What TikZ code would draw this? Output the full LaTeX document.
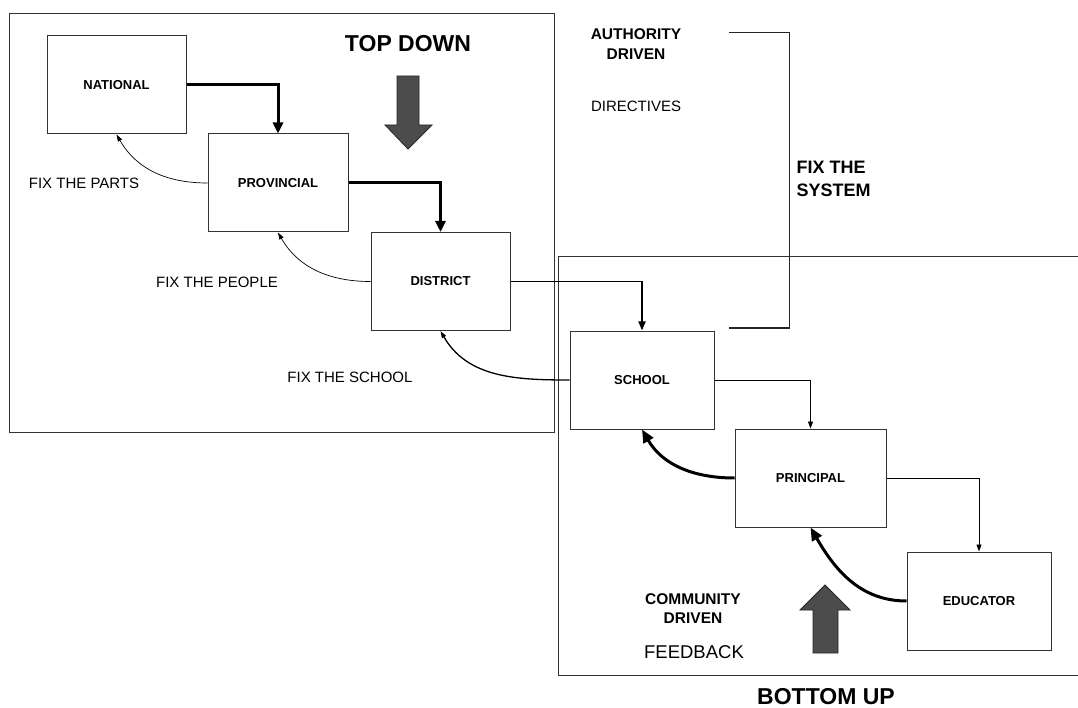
\documentclass[tikz,border=0pt]{standalone}
\usepackage{fontspec}
\setmainfont{Liberation Sans}
\usetikzlibrary{arrows.meta}
\begin{document}
\begin{tikzpicture}[x=1pt, y=-1pt,
  tierbox/.style={draw=black!80, line width=1pt, inner sep=0pt, minimum width=#1, minimum height=98pt, font=\fontsize{13}{15}\selectfont\bfseries},
  note/.style={font=\fontsize{15}{18}\selectfont, align=center},
  boldnote/.style={font=\fontsize{15.5}{19}\selectfont\bfseries, align=center},
  bignote/.style={font=\fontsize{23}{26}\selectfont\bfseries},
  pushthick/.style={line width=3pt, -{Triangle[length=11pt,width=10pt]}},
  pushmid/.style={line width=1.8pt, -{Triangle[length=9pt,width=7pt]}},
  pushthin/.style={line width=0.9pt, -{Triangle[length=7pt,width=5pt]}},
  backthin/.style={line width=0.7pt, -{Triangle[length=7pt,width=4.5pt]}},
  backthick/.style={line width=3pt, -{Triangle[length=13pt,width=11pt]}},
  bigarrow/.style={fill=black!70, draw=black!85, line width=0.8pt}]
\useasboundingbox (0,0) rectangle (1078,708);

% Top down frame
\draw[black!80, line width=1pt] (9,14) rectangle (554,432);
\node[bignote] (topdown) at (408,44) {TOP DOWN};
\draw[bigarrow] (397,76) -- (419,76) -- (419,125) -- (432,125) -- (408,149) -- (385,125) -- (397,125) -- cycle;

% Bottom up frame (runs off the right edge)
\draw[black!80, line width=1pt] (1078,257) -- (558,257) -- (558,675) -- (1078,675);
\node[bignote] (bottomup) at (826,697) {BOTTOM UP};
\draw[bigarrow] (813,653) -- (838,653) -- (838,610) -- (850,610) -- (825,585) -- (800,610) -- (813,610) -- cycle;

% Levels
\node[tierbox=139pt] (national) at (116.5,85) {NATIONAL};
\node[tierbox=140pt] (provincial) at (278,183) {PROVINCIAL};
\node[tierbox=139pt] (district) at (440.5,281.5) {DISTRICT};
\node[tierbox=144pt] (school) at (642,380) {SCHOOL};
\node[tierbox=151pt] (principal) at (810.5,478) {PRINCIPAL};
\node[tierbox=144pt] (educator) at (979,601) {EDUCATOR};

% Downward flow
\draw[pushthick] (national.east) -| (provincial.north);
\draw[pushthick] (provincial.east) -| (district.north);
\draw[pushmid] (district.east) -| (school.north);
\draw[pushthin] (school.east) -| (principal.north);
\draw[pushthin] (principal.east) -| (educator.north);

% Feedback curves
\draw[backthin] (provincial.west) to[out=180, in=-60] (national.south);
\draw[backthin] (district.west) to[out=180, in=-60] (provincial.south);
\draw[backthin, line width=1.3pt] (school.west) to[out=180, in=-60] (district.south);
\draw[backthick] (principal.west) to[out=180, in=-60] (school.south);
\draw[backthick] (educator.west) to[out=180, in=-60] (principal.south);

% Labels
\node[note] (parts) at (84,183) {FIX THE PARTS};
\node[note] (people) at (217,282) {FIX THE PEOPLE};
\node[note] (fixschool) at (350,377) {FIX THE SCHOOL};
\node[boldnote, font=\fontsize{15.5}{20}\selectfont\bfseries] (authority) at (636,44) {AUTHORITY\\DRIVEN};
\node[note] (directives) at (636,106) {DIRECTIVES};
\node[boldnote, align=left, anchor=west, font=\fontsize{18}{23}\selectfont\bfseries] (system) at (793,178.5) {FIX THE\\SYSTEM};
\node[boldnote] (community) at (693,609) {COMMUNITY\\DRIVEN};
\node[note, font=\fontsize{18.5}{22}\selectfont] (feedback) at (694,652) {FEEDBACK};

% Bracket
\coordinate (brtop) at (729,33);
\coordinate (brbot) at (729,328);
\draw[black!85, line width=1pt] (brtop) -- (789,33) -- (789,328) -- (brbot);
\end{tikzpicture}
\end{document}
